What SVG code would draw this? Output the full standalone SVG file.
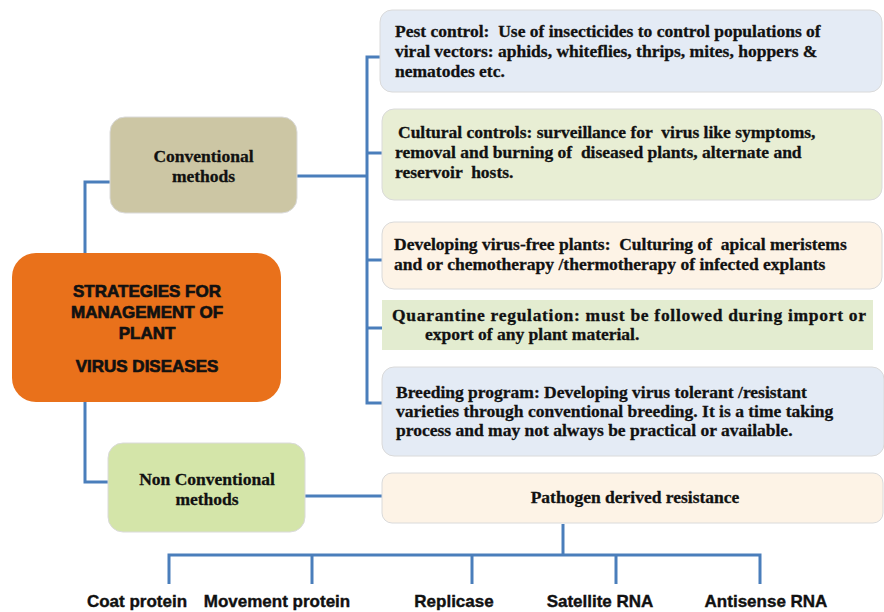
<svg xmlns="http://www.w3.org/2000/svg" width="884" height="612" viewBox="0 0 884 612">
<style>
.bt{font-family:"Liberation Serif","Times New Roman",serif;font-weight:bold;font-size:17.5px;fill:#111;stroke:#111;stroke-width:0.3}
.mt{font-family:"Liberation Sans",Arial,sans-serif;font-weight:bold;font-size:17px;fill:#111;stroke:#111;stroke-width:0.7;text-anchor:middle}
.lt{font-family:"Liberation Sans",Arial,sans-serif;font-weight:bold;font-size:17px;fill:#111;stroke:#111;stroke-width:0.4;text-anchor:middle}
.c{fill:none;stroke:#4a7ebb;stroke-width:3}
.box{stroke:#dadada;stroke-width:1}
</style>
<rect width="884" height="612" fill="#ffffff"/>
<g id="connectors">
<polyline class="c" points="85,253 85,182 110,182"/>
<polyline class="c" points="85,402 85,482 108,482"/>
<line class="c" x1="297" y1="176" x2="367" y2="176"/>
<polyline class="c" points="380,57 367,57 367,403 382,403"/>
<line class="c" x1="367" y1="153" x2="382" y2="153"/>
<line class="c" x1="367" y1="260" x2="382" y2="260"/>
<line class="c" x1="367" y1="328" x2="382" y2="328"/>
<line class="c" x1="305" y1="496" x2="382" y2="496"/>
<line class="c" x1="563" y1="524" x2="563" y2="555"/>
<polyline class="c" points="169,584 169,555 760,555 760,584"/>
<line class="c" x1="312" y1="555" x2="312" y2="584"/>
<line class="c" x1="472" y1="555" x2="472" y2="584"/>
<line class="c" x1="616" y1="555" x2="616" y2="584"/>
</g>
<g id="main">
<rect x="12" y="253" width="269" height="149" rx="24" fill="#e9711b"/>
<text class="mt" x="147" y="297">STRATEGIES FOR</text>
<text class="mt" x="147" y="318">MANAGEMENT OF</text>
<text class="mt" x="147" y="339">PLANT</text>
<text class="mt" x="147" y="372">VIRUS DISEASES</text>
</g>
<g id="conventional">
<rect class="box" x="110" y="117" width="187" height="96" rx="15" fill="#ccc6a4"/>
<text class="bt" x="203.5" y="162" text-anchor="middle">Conventional</text>
<text class="bt" x="203.5" y="182" text-anchor="middle">methods</text>
</g>
<g id="nonconventional">
<rect class="box" x="108" y="443" width="197" height="89" rx="15" fill="#d4e5a9"/>
<text class="bt" x="207" y="485" text-anchor="middle">Non Conventional</text>
<text class="bt" x="207" y="505" text-anchor="middle">methods</text>
</g>
<g id="pest">
<rect class="box" x="380" y="10" width="502" height="82" rx="12" fill="#e4ebf5"/>
<text class="bt" x="395" y="37" xml:space="preserve">Pest control:  Use of insecticides to control populations of</text>
<text class="bt" x="395" y="57">viral vectors: aphids, whiteflies, thrips, mites, hoppers &amp;</text>
<text class="bt" x="395" y="77">nematodes etc.</text>
</g>
<g id="cultural">
<rect class="box" x="382" y="109" width="500" height="91" rx="12" fill="#e8eed4"/>
<text class="bt" x="398" y="138" xml:space="preserve">Cultural controls: surveillance for  virus like symptoms,</text>
<text class="bt" x="395" y="158" xml:space="preserve">removal and burning of  diseased plants, alternate and</text>
<text class="bt" x="395" y="178" xml:space="preserve">reservoir  hosts.</text>
</g>
<g id="developing">
<rect class="box" x="382" y="222" width="500" height="67" rx="12" fill="#fdf3e6"/>
<text class="bt" x="394" y="250" xml:space="preserve">Developing virus-free plants:  Culturing of  apical meristems</text>
<text class="bt" x="394" y="270">and or chemotherapy /thermotherapy of infected explants</text>
</g>
<g id="quarantine">
<rect x="382" y="300" width="491" height="50" fill="#e3ecd0"/>
<text class="bt" x="392" y="321" textLength="474" lengthAdjust="spacing">Quarantine regulation: must be followed during import or</text>
<text class="bt" x="425" y="340">export of any plant material.</text>
</g>
<g id="breeding">
<rect class="box" x="382" y="367" width="502" height="89" rx="12" fill="#e4ebf5"/>
<text class="bt" x="396" y="398">Breeding program: Developing virus tolerant /resistant</text>
<text class="bt" x="396" y="417">varieties through conventional breeding. It is a time taking</text>
<text class="bt" x="396" y="436">process and may not always be practical or available.</text>
</g>
<g id="pathogen">
<rect class="box" x="382" y="473" width="501" height="50" rx="10" fill="#fdf3e6"/>
<text class="bt" x="635" y="503" text-anchor="middle">Pathogen derived resistance</text>
</g>
<g id="coat"><text class="lt" x="137" y="607">Coat protein</text></g>
<g id="movement"><text class="lt" x="277" y="607">Movement protein</text></g>
<g id="replicase"><text class="lt" x="454" y="607">Replicase</text></g>
<g id="satellite"><text class="lt" x="600" y="607">Satellite RNA</text></g>
<g id="antisense"><text class="lt" x="766" y="607">Antisense RNA</text></g>
</svg>
